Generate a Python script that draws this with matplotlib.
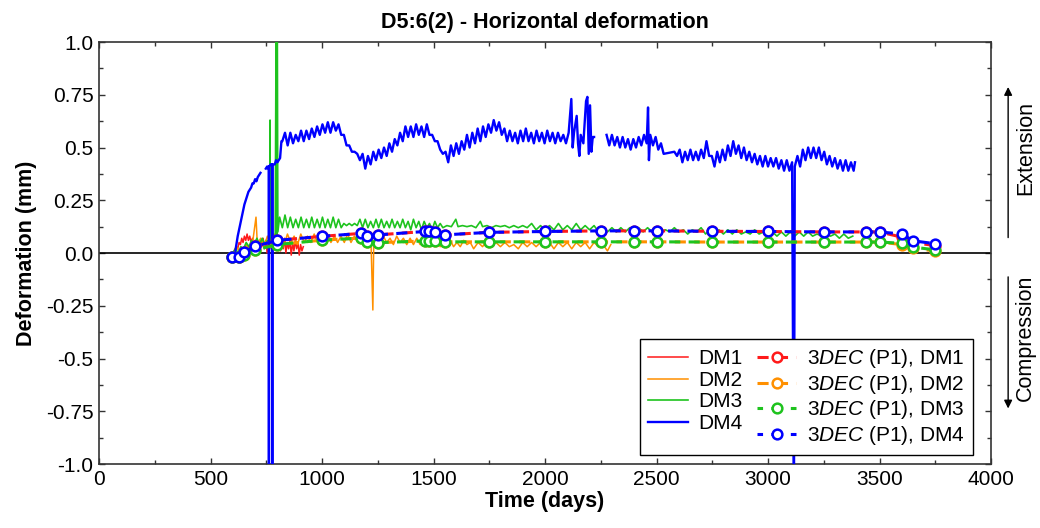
import numpy as np
import matplotlib
matplotlib.use("Agg")
import matplotlib.pyplot as plt
from matplotlib.ticker import MultipleLocator

plt.rcParams["font.family"] = ["Liberation Sans", "DejaVu Sans"]
plt.rcParams["mathtext.fontset"] = "custom"
plt.rcParams["mathtext.it"] = "Liberation Sans:italic"
plt.rcParams["mathtext.rm"] = "Liberation Sans"
plt.rcParams["lines.scale_dashes"] = False

nan = np.nan

# ---- measured displacement, DM1..DM4 (days, mm) ----
dm1_days = [610, 616, 622, 628, 634, 640, 646, 652, 658, 664, 670, 676, 682, 688, 694, 700,
            706, 712, 718, 724, 730, 736, 742, 748, 754, 760, 766, 772, 778, 784, 790, 796,
            802, 808, 814, 820, 826, 832, 838, 844, 850, 856, 862, 868, 874, 880, 886, 892,
            898, 904, 910, 916]
dm1_mm = [0.00, 0.03, 0.02, 0.05, 0.04, 0.07, 0.05, 0.08, 0.06, 0.09, 0.06, 0.08, 0.05, 0.07, 0.03, 0.06,
          0.02, 0.05, 0.01, 0.06, 0.03, 0.07, 0.02, 0.06, 0.00, 0.05, 0.02, 0.07, 0.03, 0.08, 0.04, 0.09,
          0.03, 0.07, 0.01, 0.06, 0.02, 0.07, 0.00, 0.05, 0.02, 0.06, -0.01, 0.05, 0.01, 0.06, 0.02, 0.05,
          -0.01, 0.04, 0.01, 0.03]

dm2_days = [600, 615, 630, 645, 660, 675, 690, 704, 710, 725, 740, 755, 770, 785, 800, 815, 830, 845,
            860, 875, 890, 905, 920, 935, 950, 965, 980, 995, 1010, 1025, 1040, 1055, 1070, 1085,
            1100, 1115, 1130, 1145, 1160, 1175, 1190, 1205, 1220, 1228, 1232, 1245, 1260, 1275,
            1290, 1305, 1320, 1335, 1350, 1365, 1380, 1395, 1410, 1425, 1440, 1455, 1470, 1485,
            1500, 1515, 1530, 1545, 1560, 1575, 1590, 1605, 1620, 1635, 1650, 1665, 1680, 1700,
            1720, 1740, 1760, 1780, 1800, 1820, 1840, 1860, 1880, 1900, 1920, 1940, 1960, 1980,
            2000, 2020, 2040, 2060, 2080, 2100, 2120, 2140, 2160, 2180, 2200, 2220, 2240, 2260,
            2280, 2295]
dm2_mm = [0.00, 0.03, 0.01, -0.04, 0.04, 0.02, 0.06, 0.17, 0.04, 0.07, 0.03, 0.08, 0.04, 0.09, 0.05, 0.08,
          0.04, 0.09, 0.05, 0.08, 0.04, 0.09, 0.05, 0.08, 0.05, 0.09, 0.05, 0.08, 0.05, 0.09, 0.05, 0.08,
          0.05, 0.08, 0.05, 0.09, 0.05, 0.08, 0.05, 0.08, 0.05, 0.07, 0.04, -0.27, 0.05, 0.07, 0.04, 0.08,
          0.05, 0.07, 0.04, 0.08, 0.05, 0.07, 0.04, 0.07, 0.04, 0.07, 0.04, 0.06, 0.04, 0.07, 0.04, 0.06,
          0.03, 0.06, 0.04, 0.06, 0.03, 0.05, 0.03, 0.06, 0.04, 0.05, 0.02, 0.05, 0.03, 0.06, 0.03, 0.05,
          0.03, 0.05, 0.03, 0.04, 0.02, 0.05, 0.03, 0.05, 0.03, 0.05, 0.03, 0.05, 0.02, 0.05, 0.03, 0.05,
          0.02, 0.05, 0.03, 0.05, 0.02, 0.05, 0.03, 0.04, 0.01, 0.04]

dm3_days = [600, 612, 624, 636, 648, 660, 672, 684, 696, 708, 720, 732, 744, 756, 766, 767, 768, 780,
            790, 795, 797, 799, 802, 810, 822, 834, 846, 858, 870, 882, 894, 906, 918, 930, 942, 954,
            966, 978, 990, 1002, 1014, 1026, 1038, 1050, 1062, 1074, 1086, 1098, 1110, 1122, 1134,
            1146, 1158, 1170, 1182, 1194, 1206, 1218, 1230, 1242, 1254, 1266, 1278, 1290, 1302, 1314,
            1326, 1338, 1350, 1362, 1374, 1386, 1398, 1410, 1422, 1434, 1446, 1458, 1470, 1482, 1494,
            1506, 1518, 1530, 1542, 1560, 1580, 1600, 1610, 1630, 1650, 1670, 1690, 1710, 1720, 1740,
            1760, 1780, 1800, 1820, 1840, 1860, 1880, 1900, 1920, 1940, 1960, 1980, 2000, 2020, 2040,
            2060, 2080, 2100, 2120, 2140, 2160, 2180, 2200, 2220, 2240, 2260, 2280, 2300, 2320, 2340,
            2360, 2380, 2400, 2420, 2440, 2460, 2480, 2500, 2520, 2540, 2560, 2580, 2600, 2620, 2640,
            2660, 2680, 2700, 2720, 2740, 2760, 2780, 2800, 2820, 2840, 2860, 2880, 2900, 2920, 2940,
            2960, 2980, 3000, 3020, 3040, 3060, 3080, 3100, 3120, 3140, 3160, 3180, 3200, 3220, 3240,
            3260, 3280, 3300, 3320, 3340, 3360, 3380]
dm3_mm = [0.00, 0.02, 0.00, 0.03, 0.02, 0.05, 0.03, 0.06, 0.04, 0.07, 0.04, 0.07, 0.04, 0.06, 0.05, 0.63, 0.05, 0.07,
          0.05, 1.30, 0.08, 1.30, 0.10, 0.17, 0.12, 0.18, 0.12, 0.17, 0.12, 0.16, 0.12, 0.17, 0.12, 0.16, 0.12, 0.17,
          0.12, 0.16, 0.12, 0.17, 0.12, 0.16, 0.12, 0.17, 0.12, 0.16, 0.12, 0.14, 0.13, 0.14, 0.13,
          0.14, 0.13, 0.16, 0.12, 0.16, 0.12, 0.15, 0.12, 0.16, 0.12, 0.16, 0.12, 0.15, 0.12, 0.16,
          0.12, 0.15, 0.12, 0.16, 0.12, 0.15, 0.11, 0.16, 0.12, 0.15, 0.11, 0.15, 0.12, 0.14, 0.11,
          0.15, 0.12, 0.14, 0.12, 0.13, 0.125, 0.16, 0.125, 0.13, 0.125, 0.13, 0.12, 0.15, 0.125, 0.13,
          0.12, 0.13, 0.125, 0.13, 0.12, 0.13, 0.12, 0.13, 0.12, 0.14, 0.11, 0.13, 0.11, 0.13, 0.11,
          0.14, 0.11, 0.13, 0.11, 0.14, 0.11, 0.13, 0.11, 0.13, 0.10, 0.12, 0.10, 0.12, 0.10, 0.12,
          0.10, 0.12, 0.10, 0.12, 0.10, 0.12, 0.10, 0.12, 0.10, 0.11, 0.10, 0.12, 0.10, 0.11, 0.09,
          0.11, 0.10, 0.12, 0.09, 0.11, 0.09, 0.11, 0.09, 0.11, 0.09, 0.11, 0.09, 0.10, 0.09, 0.11,
          0.09, 0.10, 0.09, 0.10, 0.08, 0.10, 0.08, 0.10, 0.08, 0.10, 0.08, 0.10, 0.08, 0.09, 0.08,
          0.09, 0.08, 0.09, 0.07, 0.09, 0.07, 0.08]

dm4_days = [610, 616, 622, 628, 634, 640, 646, 652, 658, 664, 670, 676, 682, 688, 694, 700, 706, 712,
            718, 724, 735, 748, 754, 759, 761, 762, 763, 770, 776, 777, 778, 788, 794, 800, 806, 812,
            818, 822, 834, 846, 858, 870, 882, 894, 906, 918, 930, 942, 954, 966, 978, 990, 1002, 1014,
            1026, 1038, 1050, 1062, 1074, 1086, 1098, 1110, 1122, 1134, 1146, 1158, 1170, 1182, 1194,
            1206, 1218, 1230, 1242, 1254, 1266, 1278, 1290, 1302, 1314, 1326, 1338, 1350, 1362, 1374,
            1386, 1398, 1410, 1422, 1434, 1446, 1458, 1470, 1482, 1494, 1506, 1518, 1530, 1542, 1554,
            1566, 1578, 1590, 1602, 1614, 1626, 1638, 1650, 1662, 1674, 1686, 1698, 1710, 1722, 1734,
            1746, 1758, 1770, 1782, 1794, 1806, 1818, 1830, 1842, 1854, 1866, 1878, 1890, 1902, 1914,
            1926, 1938, 1950, 1962, 1974, 1986, 1998, 2010, 2022, 2034, 2046, 2058, 2070, 2082, 2094,
            2106, 2118, 2124, 2130, 2142, 2148, 2154, 2160, 2172, 2184, 2190, 2196, 2202, 2208, 2214,
            2220, 2245, 2276, 2288, 2300, 2312, 2324, 2336, 2348, 2360, 2372, 2384, 2396, 2408, 2420,
            2432, 2444, 2456, 2462, 2466, 2472, 2484, 2496, 2508, 2520, 2532, 2580, 2592, 2604, 2616,
            2628, 2640, 2652, 2664, 2676, 2688, 2700, 2712, 2724, 2736, 2748, 2760, 2772, 2784, 2796,
            2808, 2820, 2832, 2844, 2856, 2868, 2880, 2892, 2904, 2916, 2928, 2940, 2952, 2964, 2976,
            2988, 3000, 3012, 3024, 3036, 3048, 3060, 3072, 3084, 3096, 3108, 3116, 3120, 3132, 3144,
            3156, 3168, 3180, 3192, 3204, 3216, 3228, 3240, 3252, 3264, 3276, 3288, 3300, 3312, 3324,
            3336, 3348, 3360, 3372, 3384, 3390]
dm4_mm = [0.00, 0.04, 0.08, 0.11, 0.14, 0.17, 0.20, 0.23, 0.25, 0.27, 0.29, 0.30, 0.31, 0.33, 0.33, 0.35, 0.34, 0.36,
          0.37, 0.38, nan, 0.40, 0.41, 0.40, 0.41, -1.30, 0.41, 0.42, 0.42, -1.30, 0.42, 0.42, 0.44, 0.43, 0.44, 0.45,
          0.53, 0.53, 0.57, 0.51, 0.57, 0.52, 0.56, 0.53, 0.58, 0.53, 0.58, 0.54, 0.59, 0.55, 0.60, 0.56, 0.61, 0.57,
          0.62, 0.57, 0.62, 0.58, 0.61, 0.56, 0.56, 0.51, 0.51, 0.48, 0.48, 0.47, 0.44, 0.47, 0.40,
          0.46, 0.42, 0.48, 0.44, 0.49, 0.45, 0.50, 0.46, 0.52, 0.48, 0.54, 0.51, 0.57, 0.53, 0.60,
          0.55, 0.60, 0.55, 0.61, 0.56, 0.60, 0.55, 0.61, 0.56, 0.56, 0.53, 0.53, 0.49, 0.47, 0.48,
          0.43, 0.51, 0.46, 0.52, 0.47, 0.53, 0.49, 0.56, 0.50, 0.57, 0.52, 0.59, 0.53, 0.60, 0.55,
          0.61, 0.57, 0.63, 0.58, 0.62, 0.56, 0.59, 0.53, 0.58, 0.53, 0.57, 0.52, 0.58, 0.53, 0.59,
          0.53, 0.57, 0.52, 0.58, 0.53, 0.57, 0.52, 0.58, 0.53, 0.57, 0.52, 0.57, 0.53, 0.56, 0.52,
          0.57, 0.73, 0.50, 0.57, 0.65, 0.52, 0.46, 0.56, 0.52, 0.72, 0.74, 0.47, 0.70, 0.48, 0.55,
          0.55, nan, 0.56, 0.51, 0.56, 0.51, 0.55, 0.50, 0.55, 0.50, 0.54, 0.49, 0.54, 0.50, 0.55,
          0.51, 0.56, 0.52, 0.69, 0.44, 0.56, 0.51, 0.55, 0.49, 0.52, 0.47, 0.48, 0.46, 0.49, 0.43,
          0.48, 0.44, 0.49, 0.44, 0.48, 0.44, 0.49, 0.45, 0.53, 0.46, 0.46, 0.41, 0.48, 0.43, 0.49,
          0.44, 0.51, 0.46, 0.53, 0.47, 0.51, 0.45, 0.50, 0.44, 0.48, 0.43, 0.47, 0.42, 0.46, 0.41,
          0.46, 0.41, 0.45, 0.41, 0.45, 0.40, 0.44, 0.39, 0.44, 0.39, 0.43, -1.30, 0.41, 0.46, 0.41,
          0.49, 0.44, 0.50, 0.45, 0.50, 0.45, 0.50, 0.44, 0.48, 0.42, 0.46, 0.41, 0.45, 0.40, 0.44,
          0.39, 0.44, 0.39, 0.43, 0.39, 0.43]

# ---- 3DEC (P1) model results at the evaluation steps ----
model_days = [595, 630, 650, 700, 800, 1000, 1175, 1200, 1250, 1460, 1480, 1505, 1550, 1750,
              2000, 2250, 2400, 2500, 2750, 3000, 3250, 3440, 3500, 3600, 3650, 3750]
model_dm1 = [-0.017, -0.017, 0.003, 0.032, 0.06, 0.079, 0.093, 0.082, 0.086, 0.102, 0.102, 0.098, 0.086,
             0.098, 0.102, 0.105, 0.105, 0.105, 0.103, 0.102, 0.10, 0.10, 0.10, 0.075, 0.05, 0.035]
model_dm2 = [-0.02, -0.02, -0.008, 0.015, 0.04, 0.061, 0.071, 0.05, 0.049, 0.057, 0.057, 0.055, 0.053,
             0.053, 0.053, 0.053, 0.053, 0.053, 0.052, 0.052, 0.052, 0.052, 0.052, 0.04, 0.022, 0.01]
model_dm3 = [-0.02, -0.02, -0.008, 0.015, 0.04, 0.061, 0.071, 0.05, 0.049, 0.057, 0.057, 0.055, 0.053,
             0.053, 0.053, 0.053, 0.053, 0.053, 0.052, 0.052, 0.052, 0.052, 0.052, 0.046, 0.028, 0.015]
model_dm4 = [-0.017, -0.017, 0.003, 0.032, 0.06, 0.079, 0.093, 0.082, 0.086, 0.102, 0.102, 0.098, 0.086,
             0.098, 0.102, 0.105, 0.105, 0.105, 0.103, 0.102, 0.10, 0.10, 0.10, 0.09, 0.058, 0.044]

colors = {"DM1": "#ff1a1a", "DM2": "#ff9000", "DM3": "#1ec31e", "DM4": "#0000ff"}
FS = 15

fig = plt.figure(figsize=(10.4, 5.28), dpi=100)
ax = fig.add_axes([0.0952, 0.1212, 0.8577, 0.7992])

# measured curves
meas = [("DM1", dm1_days, dm1_mm, 1.1), ("DM2", dm2_days, dm2_mm, 1.1),
        ("DM3", dm3_days, dm3_mm, 1.2), ("DM4", dm4_days, dm4_mm, 1.7)]
handles_meas = []
for name, d, v, lw in meas:
    h, = ax.plot(d, v, color=colors[name], lw=lw, label=name, zorder=3)
    handles_meas.append(h)

# model curves (dashed, open circles)
model = [("DM1", model_dm1, 0), ("DM2", model_dm2, 0), ("DM3", model_dm3, 4), ("DM4", model_dm4, 4)]
handles_model = {}
for name, v, off in model:
    h, = ax.plot(model_days, v, color=colors[name], lw=2.2, linestyle=(off, (8, 6)),
                 marker="o", ms=7, mfc="white", mec=colors[name], mew=1.8, zorder=5,
                 label=f"$\\it{{3DEC}}$ (P1), {name}")
    handles_model[name] = h
order_model = [handles_model[k] for k in ["DM1", "DM2", "DM3", "DM4"]]

ax.axhline(0, color="black", lw=1.2, zorder=2)

ax.set_xlim(0, 4000)
ax.set_ylim(-1.0, 1.0)
ax.xaxis.set_major_locator(MultipleLocator(500))
ax.xaxis.set_minor_locator(MultipleLocator(250))
ax.yaxis.set_minor_locator(MultipleLocator(0.125))
ax.set_yticks([-1.0, -0.75, -0.5, -0.25, 0.0, 0.25, 0.5, 0.75, 1.0])
ax.set_yticklabels(["-1.0", "-0.75", "-0.5", "-0.25", "0.0", "0.25", "0.5", "0.75", "1.0"])
ax.tick_params(which="both", direction="in", top=True, right=True, labelsize=FS, color="#333333",
               pad=4)
ax.tick_params(which="major", length=4, width=1)
ax.tick_params(which="minor", length=3, width=1)
for s in ax.spines.values():
    s.set_linewidth(1.2)
    s.set_color("#333333")

ax.set_xlabel("Time (days)", fontsize=15.5, fontweight="bold", labelpad=2)
ax.set_ylabel("Deformation (mm)", fontsize=15.5, fontweight="bold", labelpad=6)
ax.set_title("D5:6(2) - Horizontal deformation", fontsize=15.5, fontweight="bold", pad=10)

leg = ax.legend(handles_meas + order_model,
                [h.get_label() for h in handles_meas] + [h.get_label() for h in order_model],
                ncol=2, loc="lower right", bbox_to_anchor=(0.98, 0.021), borderaxespad=0,
                fontsize=FS, frameon=True, fancybox=False, edgecolor="black", framealpha=1,
                handlelength=1.9, handletextpad=0.5, columnspacing=0.7, labelspacing=0.12,
                borderpad=0.4)
leg.get_frame().set_linewidth(1.0)
leg.set_zorder(10)

# direction annotations outside the frame
ax.annotate("", xy=(1.0192, 0.9), xytext=(1.0192, 0.53), xycoords="axes fraction",
            arrowprops=dict(arrowstyle="-|>", color="black", lw=1.0, mutation_scale=12),
            annotation_clip=False)
ax.annotate("", xy=(1.0192, 0.125), xytext=(1.0192, 0.45), xycoords="axes fraction",
            arrowprops=dict(arrowstyle="-|>", color="black", lw=1.0, mutation_scale=12),
            annotation_clip=False)
fig.text(0.986, 0.72, "Extension", rotation=90, ha="center", va="center", fontsize=15.5)
fig.text(0.986, 0.36, "Compression", rotation=90, ha="center", va="center", fontsize=15.5)

fig.savefig("out.png", dpi=100)
